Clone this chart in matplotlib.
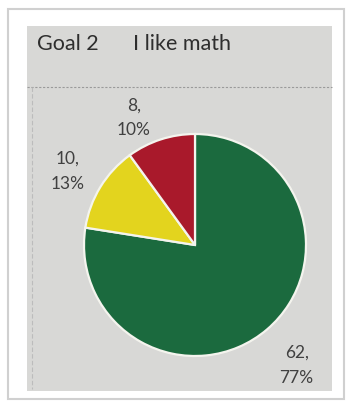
import numpy as np
import matplotlib.pyplot as plt
from matplotlib.patches import Rectangle
from matplotlib.lines import Line2D

# chart content
title_left = "Goal 2"
title_right = "I like math"
answers = ["Yes", "Somewhat", "No"]
counts = [62, 10, 8]
percents = [77, 13, 10]
colors = ["#1b6a3e", "#e3d41e", "#a9192b"]

W, H = 347, 406
fig = plt.figure(figsize=(W / 100, H / 100), dpi=100, facecolor="white")


def px(x, y):
    # pixel (from top-left) -> figure fraction
    return x / W, 1 - y / H


# white card with a soft edge, grey paper panel inside
bg = fig.add_axes([0, 0, 1, 1])
bg.set_xlim(0, W)
bg.set_ylim(H, 0)
bg.axis("off")
bg.add_patch(Rectangle((8, 10), 336, 390, facecolor="white",
                       edgecolor="#d0d0d0", linewidth=1.5))
bg.add_patch(Rectangle((27, 27), 305, 365, facecolor="#d8d8d6",
                       edgecolor="none"))
bg.add_line(Line2D([27, 332], [88, 88], color="#9a9a9a", linewidth=0.8,
                   linestyle=(0, (2, 1.5))))
bg.add_line(Line2D([32, 32], [88, 390], color="#bcbcbc", linewidth=0.8,
                   linestyle=(0, (4, 2))))

font = ["Lato", "DejaVu Sans"]
fig.text(*px(37, 50), title_left, fontsize=15.5, color="#2e2e2e",
         family=font, va="baseline", ha="left")
fig.text(*px(133, 50), title_right, fontsize=15.5, color="#2e2e2e",
         family=font, va="baseline", ha="left")

# pie
cx, cy, r = 195, 246, 111
ax = fig.add_axes([(cx - r) / W, 1 - (cy + r) / H, 2 * r / W, 2 * r / H])
wedges, _ = ax.pie(counts, colors=colors, startangle=90, counterclock=False,
                   radius=1, wedgeprops=dict(edgecolor="#f4f4ee", linewidth=1.6))
ax.set_xlim(-1, 1)
ax.set_ylim(-1, 1)
ax.axis("off")

# data labels: radial distance and angular nudge per wedge
label_dist = [1.41, 1.33, 1.28]
label_nudge = [0, 1, 7.5]
for w, n, p, d, da in zip(wedges, counts, percents, label_dist, label_nudge):
    mid = np.deg2rad((w.theta1 + w.theta2) / 2 + da)
    ax.text(d * np.cos(mid), d * np.sin(mid), f"{n},\n{p}%",
            ha="center", va="center", fontsize=12.5, color="#404040",
            family=font, linespacing=1.7, clip_on=False)

fig.savefig("out.png", dpi=100, facecolor="white")
